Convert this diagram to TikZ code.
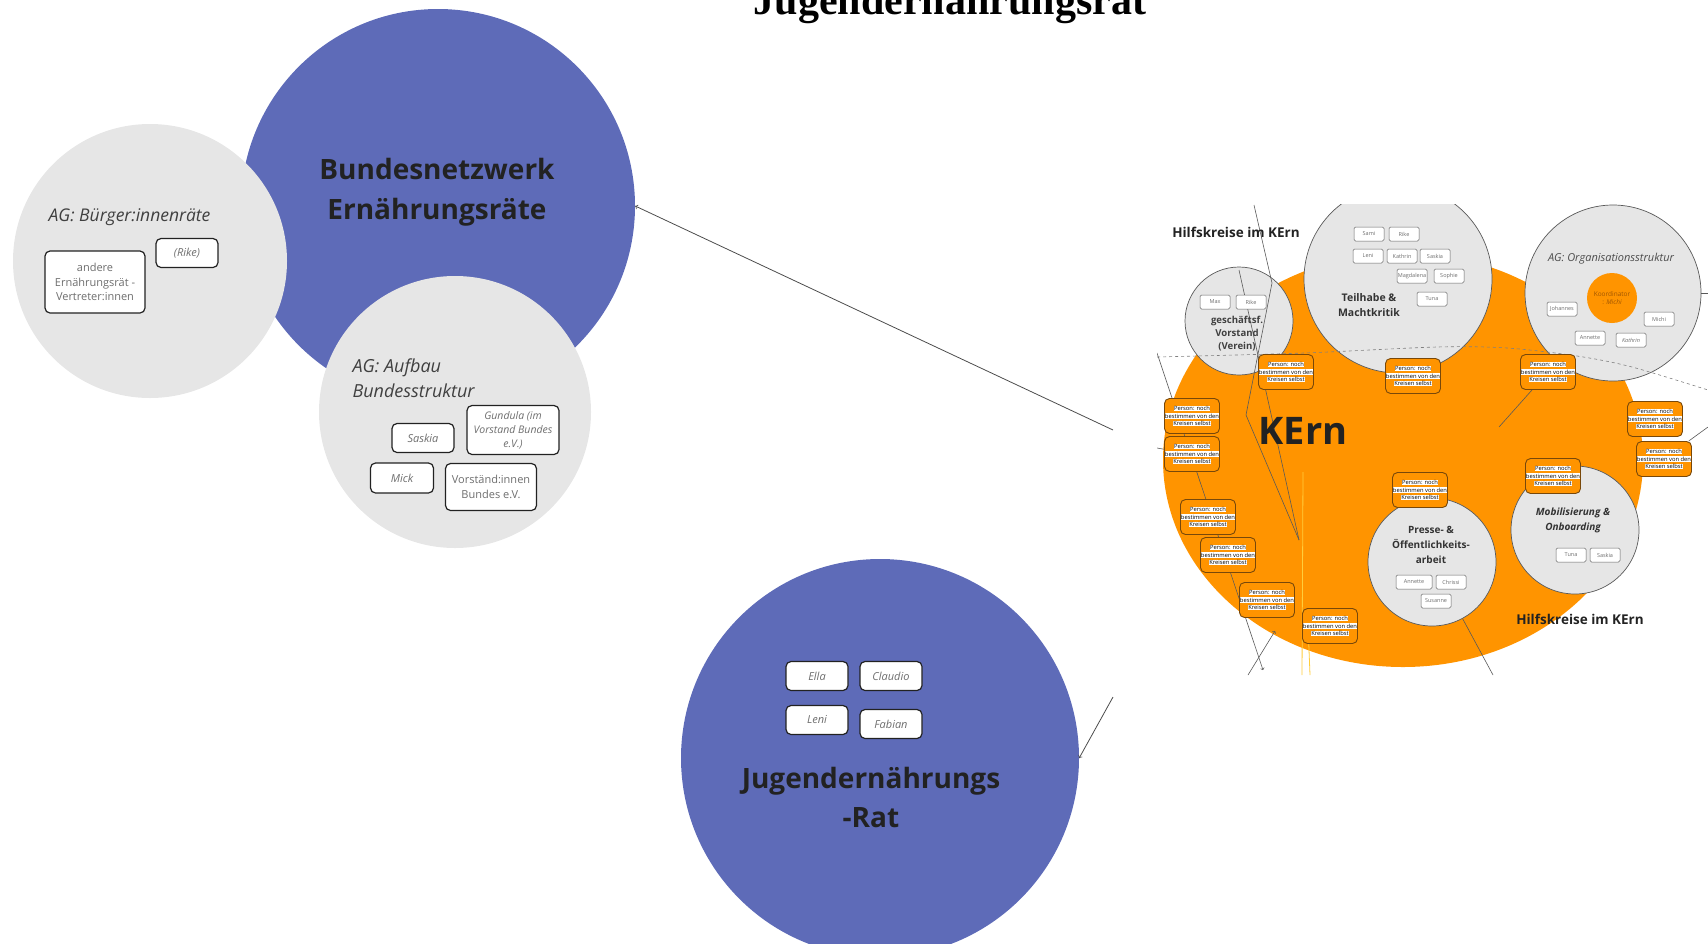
\documentclass[tikz,border=0pt]{standalone}
\usepackage{fontspec}
\setmainfont{Open Sans}
\newfontfamily\titlefont{Liberation Serif}
\usetikzlibrary{shapes.geometric}

\definecolor{netzblau}{RGB}{94,107,184}
\definecolor{aggrau}{RGB}{230,230,230}
\definecolor{kernorange}{RGB}{255,148,0}
\definecolor{kernbraun}{RGB}{120,72,10}
\definecolor{koordtext}{RGB}{160,85,0}
\definecolor{textgrau}{RGB}{110,110,110}
\definecolor{dunkel}{RGB}{34,34,34}
\definecolor{gelblinie}{RGB}{255,205,60}

\newcommand\fs[2]{\fontsize{#1}{#2}\selectfont}
\newcommand\hlw[1]{{\setlength{\fboxsep}{0.3pt}\colorbox{white}{#1}}}
\newcommand\perstext{\hlw{Person: noch}\\\hlw{bestimmen von den}\\\hlw{Kreisen selbst}}

\tikzset{
  bigkreis/.style={circle,fill=netzblau,inner sep=0pt},
  agkreis/.style={circle,fill=aggrau,inner sep=0pt},
  namebox/.style={draw=dunkel,line width=1.2pt,fill=white,rounded corners=5pt,
    inner sep=1pt,align=center,text=textgrau,font=\itshape\fs{11}{14}},
  kkreis/.style={circle,fill=aggrau,draw=black!65,line width=0.7pt,inner sep=0pt},
  kbox/.style={draw=black!60,line width=0.5pt,fill=white,rounded corners=1.5pt,
    minimum width=30pt,minimum height=14pt,inner sep=0pt,text=textgrau,font=\fs{5.5}{6}},
  persbox/.style={draw=kernbraun,line width=0.9pt,fill=kernorange,rounded corners=5pt,
    minimum width=55pt,minimum height=35pt,inner sep=0pt,align=center,font=\fs{5.8}{7.6}},
  kline/.style={draw=black!65,line width=0.6pt},
  conn/.style={->,draw=black!70,line width=0.8pt},
}

\begin{document}
\begin{tikzpicture}[x=1pt,y=-1pt]
\useasboundingbox (0,0) rectangle (1708,943);

% title, cut at the top
\node[anchor=base,font=\titlefont\bfseries\fs{42}{42}] (titel) at (950,14) {Jugendernährungsrat};

% Bundesnetzwerk
\node[bigkreis,minimum size=394pt] (bund) at (438,206) {};
\node[agkreis,minimum size=274pt] (buerger) at (150,261) {};
\node[agkreis,minimum size=272pt] (aufbau) at (455,412) {};
\node[align=center,text=dunkel,font=\bfseries\fs{28}{40}] (bundtext) at (437,192) {Bundesnetzwerk\\Ernährungsräte};

\node[anchor=west,text=black!75,font=\itshape\fs{17.5}{22}] (buergertext) at (45,217) {AG: Bürger:innenräte};
\node[namebox,font=\fs{11}{14.5},minimum width=100pt,minimum height=62pt] (andere) at (95,282) {andere\\Ernährungsrät -\\Vertreter:innen};
\node[namebox,minimum width=62pt,minimum height=29pt] (rike) at (187,253) {(Rike)};

\node[anchor=west,align=left,text=black!75,font=\itshape\fs{18}{25}] (aufbautext) at (349,378) {AG: Aufbau\\Bundesstruktur};
\node[namebox,minimum width=62pt,minimum height=29pt] (saskia) at (423,438) {Saskia};
\node[namebox,font=\itshape\fs{10.5}{14},minimum width=92pt,minimum height=49pt] (gundula) at (513,430) {Gundula (im\\Vorstand Bundes\\e.V.)};
\node[namebox,minimum width=63pt,minimum height=30pt] (mick) at (402,478) {Mick};
\node[namebox,font=\fs{11}{14.5},minimum width=91pt,minimum height=47pt] (vorstaende) at (491,487) {Vorständ:innen\\Bundes e.V.};

% Jugendernaehrungsrat
\node[bigkreis,minimum size=398pt] (jugend) at (880,758) {};
\node[namebox,minimum width=62pt,minimum height=29pt] (ella) at (817,676) {Ella};
\node[namebox,minimum width=62pt,minimum height=29pt] (claudio) at (891,676) {Claudio};
\node[namebox,minimum width=62pt,minimum height=29pt] (leni) at (817,720) {Leni};
\node[namebox,minimum width=62pt,minimum height=29pt] (fabian) at (891,724) {Fabian};
\node[align=center,text=dunkel,font=\bfseries\fs{28}{39}] (jugendtext) at (871,797) {Jugendernährungs\\-Rat};

% connectors from the KErn picture
\coordinate (kernlinks) at (1113,430);
\coordinate (kernunten) at (1113,697);
\draw[conn] (kernlinks) -- (bund.east);
\draw[conn] (kernunten) -- (jugend.east);

% KErn picture
\begin{scope}
\clip (1157,204) rectangle (1708,675);
\node[ellipse,fill=kernorange,minimum width=480pt,minimum height=414pt,inner sep=0pt] (kern) at (1403,460) {};
\node[kkreis,minimum size=108pt] (vorstand) at (1239,321) {};
\node[kkreis,minimum size=188pt] (teilhabe) at (1398,279) {};
\node[kkreis,minimum size=176pt] (orga) at (1613,293) {};
\node[kkreis,minimum size=128pt] (presse) at (1432,562) {};
\node[kkreis,minimum size=128pt] (mobil) at (1575,530) {};
\node[circle,fill=kernorange,minimum size=50pt,inner sep=0pt,align=center,text=koordtext,font=\fs{6.5}{8}] (koord) at (1612,298) {Koordinator\\: \textit{Michi}};

\draw[kline] (1254,205) -- (1272,283) -- (1246,415) -- (1299,540);
\draw[kline] (1239,270) -- (1299,540);
\draw[kline,dashed,draw=black!50] plot[smooth] coordinates {(1157,357) (1304,353) (1437,347) (1507,348) (1577,356) (1632,367) (1708,390)};
\draw[kline,->] (1157,353) -- (1263,670);
\draw[kline,->] (1248,675) -- (1275,631);
\draw[gelblinie,line width=0.8pt] (1303,472) -- (1302,675);
\draw[gelblinie,line width=0.8pt] (1308,625) -- (1310,675);

\node[kbox] (max) at (1215,302) {Max};
\node[kbox] (rike2) at (1251,302) {Rike};
\node[align=center,text=black!75,font=\bfseries\fs{9.6}{13}] (vorstandtext) at (1237,334) {geschäftsf.\\Vorstand\\(Verein)};

\node[kbox] (sami) at (1369,234) {Sami};
\node[kbox] (rike3) at (1404,234) {Rike};
\node[kbox] (leni2) at (1368,256) {Leni};
\node[kbox] (kathrin) at (1402,256) {Kathrin};
\node[kbox] (saskia2) at (1435,256) {Saskia};
\node[kbox] (magdalena) at (1412,276) {Magdalena};
\node[kbox] (sophie) at (1449,276) {Sophie};
\node[kbox] (tuna) at (1432,299) {Tuna};
\node[align=center,text=black!80,font=\bfseries\fs{10.5}{15}] (teilhabetext) at (1369,305) {Teilhabe \&\\Machtkritik};

\node[text=black!70,font=\itshape\fs{11}{13}] (orgatext) at (1611,259) {AG: Organisationsstruktur};
\node[kbox] (johannes) at (1562,309) {Johannes};
\node[kbox] (michi) at (1659,319) {Michi};
\node[kbox] (annette) at (1590,338) {Annette};
\node[kbox,font=\itshape\fs{5.5}{6}] (kathrin2) at (1631,340) {Kathrin};

\node[align=center,text=black!80,font=\bfseries\fs{10}{15}] (pressetext) at (1431,545) {Presse- \&\\Öffentlichkeits-\\arbeit};
\node[kbox,minimum width=36pt] (annette2) at (1414,582) {Annette};
\node[kbox] (chrissi) at (1451,582) {Chrissi};
\node[kbox] (susanne) at (1436,601) {Susanne};

\node[align=center,text=black!80,font=\bfseries\itshape\fs{10}{15}] (mobiltext) at (1573,520) {Mobilisierung \&\\Onboarding};
\node[kbox] (tuna2) at (1571,555) {Tuna};
\node[kbox] (saskia3) at (1605,555) {Saskia};

\node[persbox] (p1) at (1286,372) {\perstext};
\node[persbox] (p2) at (1413,376) {\perstext};
\node[persbox] (p3) at (1548,372) {\perstext};
\node[persbox] (p4) at (1192,416) {\perstext};
\node[persbox] (p5) at (1192,454) {\perstext};
\node[persbox] (p6) at (1208,517) {\perstext};
\node[persbox] (p7) at (1228,555) {\perstext};
\node[persbox] (p8) at (1267,600) {\perstext};
\node[persbox] (p9) at (1330,626) {\perstext};
\node[persbox] (p10) at (1420,490) {\perstext};
\node[persbox] (p11) at (1553,476) {\perstext};
\node[persbox] (p12) at (1655,419) {\perstext};
\node[persbox] (p13) at (1664,459) {\perstext};

\coordinate (k3) at (1499,427);
\coordinate (k13) at (1708,427);
\coordinate (korga) at (1708,293);
\coordinate (kpresse) at (1493,675);
\coordinate (k5) at (1157,448);
\draw[kline] (p3) -- (k3);
\draw[kline] (p13) -- (k13);
\draw[kline] (orga.east) -- (korga);
\draw[kline] (presse) -- (kpresse);
\draw[kline] (k5) -- (p5);

\node[text=dunkel,font=\bfseries\fs{13.5}{16}] (hilfsoben) at (1236,232) {Hilfskreise im KErn};
\node[text=dunkel,font=\bfseries\fs{13.5}{16}] (hilfsunten) at (1580,619) {Hilfskreise im KErn};
\node[text=dunkel,font=\bfseries\fs{38}{40}] (kerntext) at (1303,431) {KErn};
\end{scope}
\end{tikzpicture}
\end{document}
